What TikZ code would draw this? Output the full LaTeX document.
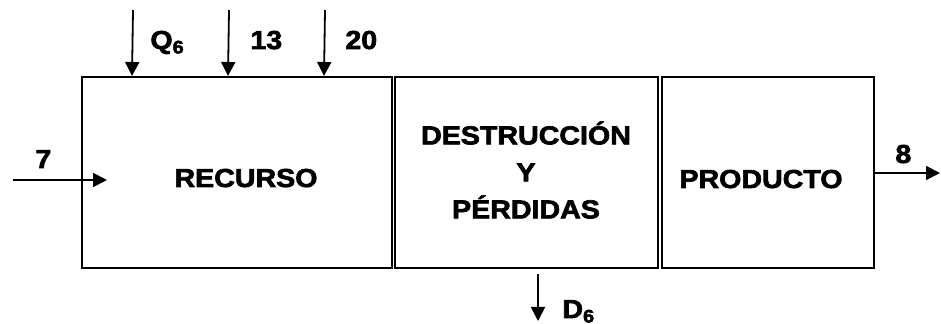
\documentclass[tikz,border=0pt]{standalone}
\usepackage{fontspec}
\setmainfont{Liberation Sans}[BoldFeatures={FakeBold=2.5,FakeStretch=1.1}]
\usetikzlibrary{arrows.meta, calc}

\begin{document}
\begin{tikzpicture}[x=0.5pt, y=-0.5pt, >={Triangle[length=7pt, width=7pt]},
  every node/.style={font=\bfseries\fontsize{13}{18.5}\selectfont, inner sep=0pt},
  blockbox/.style={draw, line width=1pt},
  flow/.style={->, line width=0.9pt}]
  \useasboundingbox (0,0) rectangle (941,324);

  % blocks
  \node[blockbox, minimum width=155pt, minimum height=95.5pt] (rec) at (237,172.5) {};
  \node[blockbox, minimum width=131.5pt, minimum height=95.5pt] (des) at (526.5,172.5) {};
  \node[blockbox, minimum width=106pt, minimum height=95.5pt] (prod) at (768,172.5) {};
  \node[anchor=base] (trec) at (246,187) {RECURSO};
  \node[align=center] (tdes) at (526,170) {DESTRUCCIÓN\\Y\\PÉRDIDAS};
  \node[anchor=base] (tprod) at (761,188) {PRODUCTO};

  % free ends
  \coordinate (q6) at (133,10);
  \coordinate (s13) at (229,10);
  \coordinate (s20) at (325,10);
  \coordinate (s7) at (13,180);
  \coordinate (s8) at (940,173);
  \coordinate (d6) at (538,321);

  \draw[flow] (q6) -- ($(rec.north west)+(51,0)$);
  \draw[flow] (s13) -- ($(rec.north west)+(147,0)$);
  \draw[flow] (s20) -- ($(rec.north west)+(243,0)$);
  \draw[flow] (s7) -- ($(rec.west)+(26,7.5)$);
  \draw[flow] (prod.east |- s8) -- (s8);
  \draw[flow] ($(des.south)+(11.5,5)$) -- (d6);

  % labels
  \node[anchor=base west] (lq6) at (150,49) {Q\textsubscript{6}};
  \node[anchor=base west] (l13) at (250,49) {13};
  \node[anchor=base west] (l20) at (345,49) {20};
  \node[anchor=base west] (l7) at (35,168) {7};
  \node[anchor=base west] (l8) at (895,163) {8};
  \node[anchor=base west] (ld6) at (562,318) {D\textsubscript{6}};
\end{tikzpicture}
\end{document}
